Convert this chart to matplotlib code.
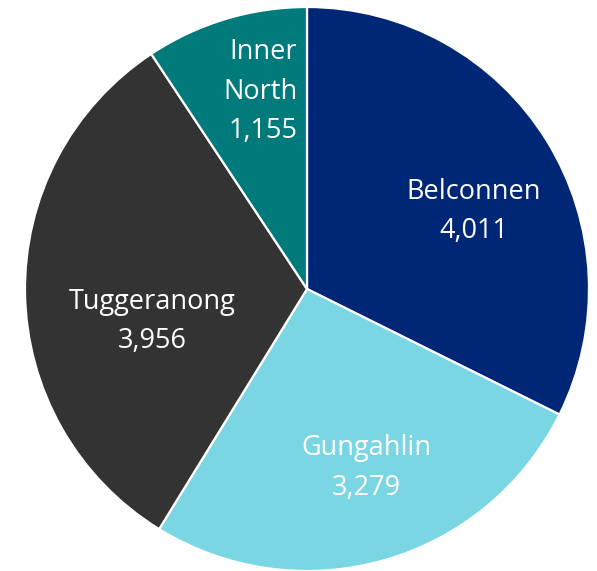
import matplotlib
matplotlib.use("Agg")
import matplotlib.pyplot as plt

regions = ["Belconnen", "Gungahlin", "Tuggeranong", "Inner\nNorth"]
values = [4011, 3279, 3956, 1155]
colors = ["#002776", "#79D6E2", "#333333", "#007A7B"]
# label positions (fraction of radius) and alignment
label_pos = [(0.59, 0.275), (0.21, -0.635), (-0.55, -0.115), (-0.035, 0.70)]
label_ha = ["center", "center", "center", "right"]

W, H = 597, 571
cx, cy, r = 307, 289, 282
fig = plt.figure(figsize=(W/100, H/100), dpi=100)
ax = fig.add_axes([(cx - r)/W, (H - cy - r)/H, 2*r/W, 2*r/H])
ax.pie(values, colors=colors, startangle=90, counterclock=False, radius=1,
       wedgeprops=dict(edgecolor="white", linewidth=1.6))
ax.set_xlim(-1, 1)
ax.set_ylim(-1, 1)
ax.set_aspect("equal")
ax.axis("off")

for name, v, (x, y), ha in zip(regions, values, label_pos, label_ha):
    ax.text(x, y, f"{name}\n{v:,}", ha=ha, va="center", color="white",
            fontsize=19.5, family=["Open Sans", "DejaVu Sans"], linespacing=1.55,
            multialignment=ha)

fig.savefig("out.png", dpi=100)
